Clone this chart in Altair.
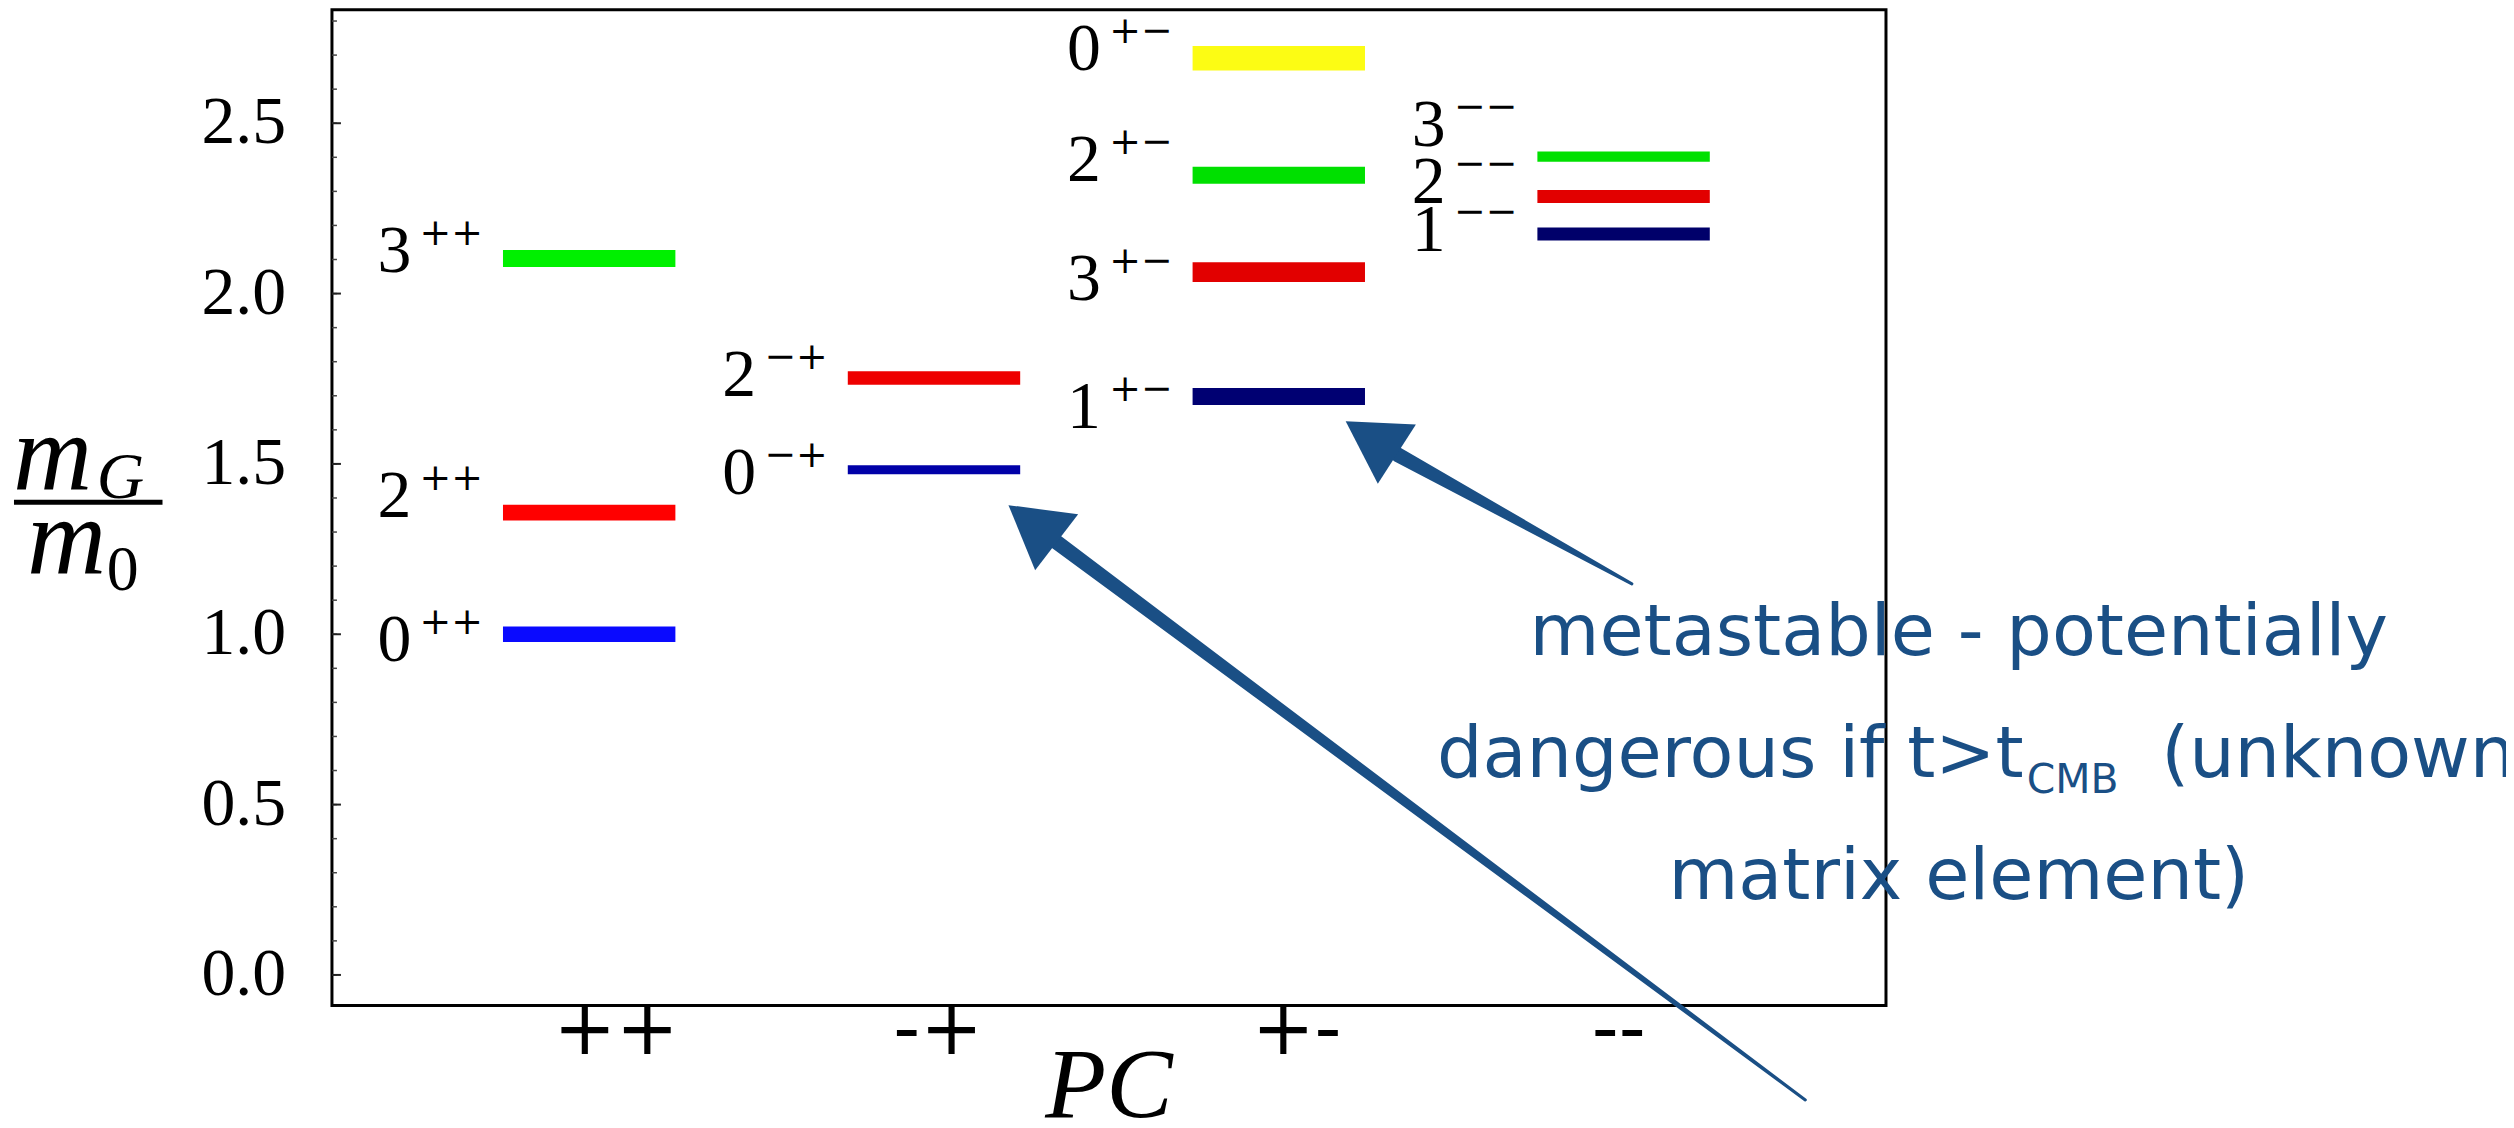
import math
import altair as alt
import pandas as pd

# ---------------- data ----------------
pc_classes = ["++", "-+", "+-", "--"]
pc_index = [1, 2, 3, 4]
pc_label_x = [1.078, 2.012, 3.052, 3.986]   # where each class label sits on the x axis

state_pc = ["++", "++", "++", "-+", "-+", "+-", "+-", "+-", "+-", "--", "--", "--"]
state_j = ["0", "2", "3", "0", "2", "1", "3", "2", "0", "1", "2", "3"]
state_mass = [1.000, 1.357, 2.103, 1.483, 1.752, 1.698, 2.063, 2.347, 2.691, 2.175, 2.285, 2.402]
state_err = [0.023, 0.023, 0.025, 0.013, 0.020, 0.025, 0.029, 0.025, 0.036, 0.019, 0.019, 0.015]
label_mass = [0.979, 1.403, 2.122, 1.470, 1.759, 1.663, 2.040, 2.388, 2.716, 2.184, 2.324, 2.491]
state_color = ["#0a0aff", "#ff0000", "#00f000", "#0000a8", "#ee0000", "#000072",
               "#e20000", "#00e000", "#fcfc14", "#00006a", "#e20000", "#00e000"]
superscripts = {"++": "++", "-+": "\u2212+", "+-": "+\u2212", "--": "\u2212\u2212"}

y_major = [0.0, 0.5, 1.0, 1.5, 2.0, 2.5]
y_major_labels = ["0.0", "0.5", "1.0", "1.5", "2.0", "2.5"]
y_minor = [round(0.1 * k, 1) for k in range(29)]

# annotation (arrows + note) in data units
arrow_id = ["a1", "a2"]
arrow_tip_x = [3.194, 2.216]
arrow_tip_y = [1.625, 1.379]
arrow_base_x = [3.345, 2.356]
arrow_base_y = [1.527, 1.270]
arrow_tail_x = [4.024, 4.527]
arrow_tail_y = [1.148, -0.367]

note_line1 = "metastable - potentially"
note_line2a = "dangerous if t>t"
note_line2b = "CMB"
note_line2c = "(unknown"
note_line3 = "matrix element)"

# ---------------- layout constants ----------------
W, H = 1559, 999
X_DOMAIN = [0.254, 4.761]
Y_DOMAIN = [-0.09, 2.833]
PX_X = W / (X_DOMAIN[1] - X_DOMAIN[0])
PX_Y = H / (Y_DOMAIN[1] - Y_DOMAIN[0])
HALF = 0.25
NOTE = "#1a4f85"

xs = alt.Scale(domain=X_DOMAIN, nice=False, zero=False)
ys = alt.Scale(domain=Y_DOMAIN, nice=False, zero=False)

def X(f):
    return alt.X(f, scale=xs, axis=None)

def Y(f):
    return alt.Y(f, scale=ys, axis=None)

df = pd.DataFrame({
    "pc": state_pc, "j": state_j, "m": state_mass, "err": state_err,
    "lab": label_mass, "color": state_color,
})
df["xi"] = [pc_index[pc_classes.index(p)] for p in df["pc"]]
df["x0"] = df["xi"] - HALF
df["x1"] = df["xi"] + HALF
df["lo"] = df["m"] - df["err"]
df["hi"] = df["m"] + df["err"]
df["sup"] = [superscripts[p] for p in df["pc"]]

bars = alt.Chart(df).mark_rect().encode(
    x=X("x0:Q"), x2="x1:Q", y=Y("lo:Q"), y2="hi:Q",
    color=alt.Color("color:N", scale=None, legend=None),
)

digits = alt.Chart(df).mark_text(
    font="Liberation Serif", fontSize=68, align="right", baseline="middle",
    dx=-92, color="black",
).encode(x=X("x0:Q"), y=Y("lab:Q"), text="j:N")
sups = alt.Chart(df).mark_text(
    font="DejaVu Serif", fontSize=38, align="right", baseline="middle",
    dx=-20, dy=-18, color="black",
).encode(x=X("x0:Q"), y=Y("lab:Q"), text="sup:N")

# axes drawn by hand (inward ticks, custom labels)
major_ticks = alt.Chart(pd.DataFrame({"v": y_major})).mark_rule(
    color="#222222", strokeWidth=2).encode(y=Y("v:Q"), x=alt.value(0), x2=alt.value(9))
minor_ticks = alt.Chart(pd.DataFrame({"v": y_minor})).mark_rule(
    color="#444444", strokeWidth=1.5).encode(y=Y("v:Q"), x=alt.value(0), x2=alt.value(5))
y_labels = alt.Chart(pd.DataFrame({"v": y_major, "t": y_major_labels})).mark_text(
    font="Liberation Serif", fontSize=68, align="right", baseline="middle", color="black",
).encode(y=Y("v:Q"), x=alt.value(-46), text="t:N")
x_labels = alt.Chart(pd.DataFrame({"v": pc_label_x, "t": pc_classes})).mark_text(
    font="DejaVu Sans", fontSize=75, align="center", baseline="alphabetic", color="black",
).encode(x=X("v:Q"), y=alt.value(H + 49), text="t:N")
x_title = alt.Chart(pd.DataFrame({"t": ["PC"]})).mark_text(
    font="Liberation Serif", fontStyle="italic", fontSize=100, align="center",
    baseline="alphabetic", color="black",
).encode(x=alt.value(W / 2), y=alt.value(H + 112), text="t:N")

# y-axis title m_G / m_0
def txt(s, px, py, size, italic=True):
    return alt.Chart(pd.DataFrame({"t": [s]})).mark_text(
        font="Liberation Serif", fontSize=size, fontStyle="italic" if italic else "normal",
        align="left", baseline="alphabetic", color="black",
    ).encode(text="t:N", x=alt.value(px), y=alt.value(py))

title_parts = [
    txt("m", -320, 482, 110),
    txt("G", -236, 490, 66),
    txt("m", -306, 566, 110),
    txt("0", -226, 582, 64, italic=False),
    alt.Chart(pd.DataFrame({"k": [0]})).mark_rule(color="black", strokeWidth=5).encode(
        x=alt.value(-319), x2=alt.value(-170), y=alt.value(494)),
]

# arrows
shaft_rows = []
for a, tx, ty, bx, by in zip(arrow_id, arrow_tail_x, arrow_tail_y, arrow_base_x, arrow_base_y):
    shaft_rows.append({"arrow": a, "k": 0, "x": tx, "y": ty, "w": 3})
    shaft_rows.append({"arrow": a, "k": 1, "x": bx, "y": by, "w": 15})
shafts = alt.Chart(pd.DataFrame(shaft_rows)).mark_trail(color=NOTE).encode(
    x=X("x:Q"), y=Y("y:Q"),
    size=alt.Size("w:Q", scale=None, legend=None),
    detail="arrow:N", order="k:Q",
)

head_rows = []
for a, px_, py_, bx, by in zip(arrow_id, arrow_tip_x, arrow_tip_y, arrow_base_x, arrow_base_y):
    dxp = (px_ - bx) * PX_X
    dyp = -(py_ - by) * PX_Y
    ang = math.degrees(math.atan2(dxp, -dyp)) % 360
    head_rows.append({"arrow": a, "x": px_, "y": py_, "ang": ang})
heads = alt.Chart(pd.DataFrame(head_rows)).mark_point(
    shape="M0,0L-0.58,1L0.58,1Z", filled=True, size=14884, color=NOTE,
    opacity=1, strokeWidth=0,
).encode(x=X("x:Q"), y=Y("y:Q"), angle=alt.Angle("ang:Q", scale=None))

def note(s, x, y, size, align):
    return alt.Chart(pd.DataFrame({"t": [s], "x": [x], "y": [y]})).mark_text(
        font="DejaVu Sans", fontSize=size, align=align, baseline="alphabetic", color=NOTE,
    ).encode(x=X("x:Q"), y=Y("y:Q"), text="t:N")

notes = [
    note(note_line1, 4.972, 0.938, 72, "center"),
    note(note_line2a, 5.160, 0.581, 72, "right"),
    note(note_line2b, 5.169, 0.534, 41, "left"),
    note(note_line2c, 5.559, 0.581, 72, "left"),
    note(note_line3, 4.972, 0.224, 72, "center"),
]

chart = alt.layer(
    bars, minor_ticks, major_ticks, y_labels, x_labels, x_title, digits, sups,
    shafts, heads, *notes, *title_parts
).properties(
    width=W, height=H,
    padding={"left": 325, "top": 0, "right": 622, "bottom": 119},
    autosize=alt.AutoSizeParams(type="none"),
    background="white",
).configure_view(stroke="black", strokeWidth=3)

chart.save("out.html", embed_options={"renderer": "svg", "actions": False})
